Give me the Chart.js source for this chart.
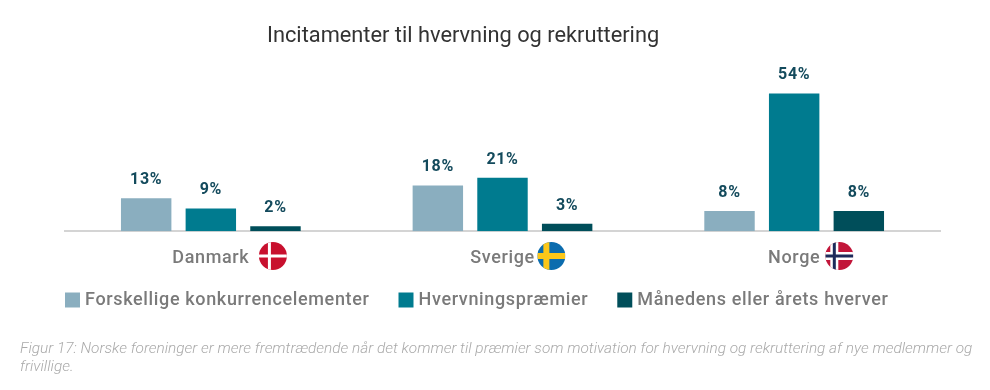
<!DOCTYPE html>
<html>
<head>
<meta charset="utf-8">
<title>Incitamenter til hvervning og rekruttering</title>
<script src="https://cdn.jsdelivr.net/npm/chart.js@4"></script>
<style>
  body { margin: 0; background: #fff; }
  canvas { display: block; }
</style>
</head>
<body>
<canvas id="grafico" width="990" height="390"></canvas>
<script>
/********************** Datos ********************/
var lande = ["Danmark", "Sverige", "Norge"];
var konkurrence = [13, 18, 8];
var praemier = [9, 21, 54];
var hverver = [2, 3, 8];
var titel = "Incitamenter til hvervning og rekruttering";
var figurtekst = [
  "Figur 17: Norske foreninger er mere fremtrædende når det kommer til præmier som motivation for hvervning og rekruttering af nye medlemmer og",
  "frivillige."
];

/********************** Etiquetas sobre las barras ********************/
var etiquetas = {
  id: "etiquetas",
  afterDatasetsDraw: function (chart) {
    var ctx = chart.ctx;
    ctx.save();
    ctx.font = "700 16px Roboto";
    ctx.fillStyle = "#134a5c";
    ctx.textAlign = "center";
    ctx.textBaseline = "alphabetic";
    chart.data.datasets.forEach(function (ds, i) {
      chart.getDatasetMeta(i).data.forEach(function (bar, j) {
        ctx.fillText(ds.data[j] + "%", bar.x, bar.y - 14);
      });
    });
    ctx.restore();
  }
};

/********************** Banderas junto a los nombres ********************/
function bandera(ctx, pais, x, y, r) {
  ctx.save();
  ctx.beginPath();
  ctx.arc(x, y, r, 0, Math.PI * 2);
  ctx.clip();
  if (pais == "Danmark") {
    ctx.fillStyle = "#c8102e";
    ctx.fillRect(x - r, y - r, r * 2, r * 2);
    ctx.fillStyle = "#fff";
    ctx.fillRect(x - 5, y - r, 3, r * 2);
    ctx.fillRect(x - r, y - 1.5, r * 2, 3);
  }
  if (pais == "Sverige") {
    ctx.fillStyle = "#0b6cae";
    ctx.fillRect(x - r, y - r, r * 2, r * 2);
    ctx.fillStyle = "#fcc719";
    ctx.fillRect(x - 8, y - r, 6, r * 2);
    ctx.fillRect(x - r, y - 3, r * 2, 6);
  }
  if (pais == "Norge") {
    ctx.fillStyle = "#c2163a";
    ctx.fillRect(x - r, y - r, r * 2, r * 2);
    ctx.fillStyle = "#fff";
    ctx.fillRect(x - 9, y - r, 8, r * 2);
    ctx.fillRect(x - r, y - 4, r * 2, 8);
    ctx.fillStyle = "#1d2a5a";
    ctx.fillRect(x - 6.5, y - r, 3, r * 2);
    ctx.fillRect(x - r, y - 1.5, r * 2, 3);
  }
  ctx.restore();
}

// distancia entre el centro del nombre y el borde de su bandera
var separacion = [23.5, 16.5, 19];

var banderas = {
  id: "banderas",
  afterDraw: function (chart) {
    var ctx = chart.ctx;
    var eje = chart.scales.x;
    ctx.save();
    ctx.font = "500 18px Roboto";
    lande.forEach(function (pais, i) {
      var ancho = ctx.measureText(pais).width;
      bandera(ctx, pais, eje.getPixelForTick(i) + ancho / 2 + separacion[i], 256, 14);
    });
    ctx.restore();
  }
};

/********************** Ajustes de posicion y espaciado del texto ********************/
// titulo y pie de figura van sin espaciado, el resto con 0.65px
function esTitulo(caja) {
  return caja.options && caja.options.text;
}

function sinEspacio(caja) {
  var dibujar = caja.draw;
  caja.draw = function (area) {
    caja.ctx.save();
    caja.ctx.letterSpacing = "0px";
    dibujar.call(caja, area);
    caja.ctx.restore();
  };
}

var ajustes = {
  id: "ajustes",
  beforeUpdate: function (chart) {
    chart.ctx.letterSpacing = "0.65px";
  },
  afterInit: function (chart) {
    chart.boxes.filter(esTitulo).forEach(sinEspacio);
    // la leyenda ocupa menos alto en el layout, luego se coloca a mano
    var ajustar = chart.legend.fit;
    chart.legend.fit = function () {
      ajustar.call(this);
      this.height = 63;
    };
  },
  afterLayout: function (chart) {
    chart.legend.left = 36;
    chart.legend.top = 258;
    chart.boxes.filter(esTitulo).forEach(function (caja) {
      caja.left = caja === chart.titleBlock ? 267 : 20;
      caja.right = 990; // el titulo comprime el texto si no cabe entre left y right
    });
  }
};

/********************** Grafico ********************/
// la leyenda dibuja un cuadrado de 7 con trazo de 8 para que el texto quede cerca
function leyendaItems(chart) {
  var items = Chart.defaults.plugins.legend.labels.generateLabels(chart);
  items.forEach(function (item) {
    item.lineWidth = 8;
    item.strokeStyle = item.fillStyle;
  });
  return items;
}

var chart = new Chart(document.getElementById("grafico").getContext("2d"), {
  type: "bar",
  data: {
    labels: lande,
    datasets: [
      { label: "Forskellige konkurrencelementer", data: konkurrence, backgroundColor: "#8aaebf" },
      { label: "Hvervningspræmier", data: praemier, backgroundColor: "#007b8f" },
      { label: "Månedens eller årets hverver", data: hverver, backgroundColor: "#004e5a" }
    ]
  },
  options: {
    responsive: false,
    animation: false,
    categoryPercentage: 0.665,
    barPercentage: 0.78,
    layout: { padding: { left: 65, right: 50, top: 0, bottom: 0 } },
    scales: {
      x: {
        grid: { display: false },
        border: { color: "#d4d4d4", width: 2 },
        ticks: { color: "#7a7a7a", font: { family: "Roboto", size: 18, weight: "500" }, padding: 8 }
      },
      y: { display: false, min: 0, max: 60 }
    },
    plugins: {
      title: {
        display: true,
        text: titel,
        align: "start",
        color: "#333",
        font: { family: "Roboto", size: 21.8, weight: "400" },
        padding: { top: 23, bottom: 29 }
      },
      subtitle: {
        display: true,
        text: figurtekst,
        position: "bottom",
        align: "start",
        color: "#aaa",
        font: { family: "Roboto", size: 15.4, weight: "300", style: "italic", lineHeight: 1.17 },
        padding: { top: 0, bottom: 14 }
      },
      legend: {
        position: "bottom",
        align: "start",
        labels: {
          boxWidth: 7,
          boxHeight: 7,
          padding: 33,
          color: "#7a7a7a",
          font: { family: "Roboto", size: 18, weight: "500" },
          generateLabels: leyendaItems
        }
      },
      tooltip: { enabled: false }
    }
  },
  plugins: [ajustes, etiquetas, banderas]
});
</script>
</body>
</html>
